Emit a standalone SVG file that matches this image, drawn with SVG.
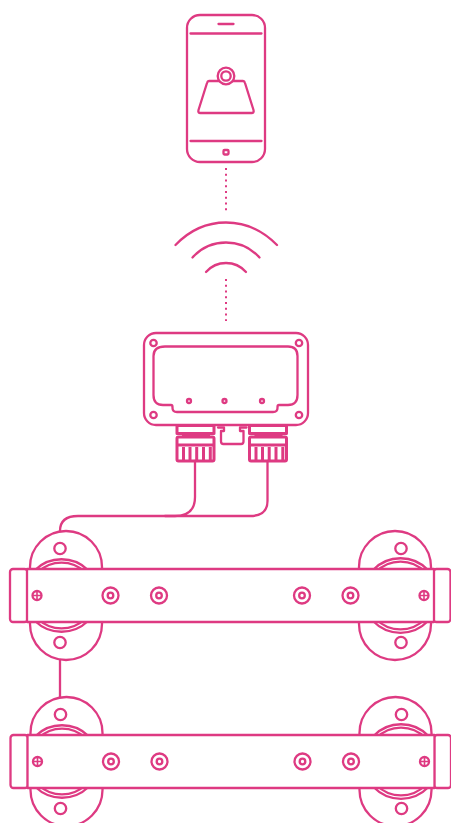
<svg xmlns="http://www.w3.org/2000/svg" xmlns:xlink="http://www.w3.org/1999/xlink" width="451" height="823" viewBox="0 0 451 823">
<style>
.s{fill:none;stroke:#de3a82;stroke-width:2.3;stroke-linecap:round;stroke-linejoin:round}
.w{fill:#fff;stroke:#de3a82;stroke-width:2.3;stroke-linejoin:round}
.d{fill:none;stroke:#de3a82;stroke-width:2;stroke-dasharray:2 3.750}
.t{fill:none;stroke:#de3a82;stroke-width:1.600}
.b{fill:none;stroke:#de3a82;stroke-width:3;stroke-linejoin:round}
</style>
<defs>
<g id="rail">
<rect class="s" x="30" y="531" width="72" height="129" rx="36"/>
<rect class="s" x="359" y="531" width="72" height="129" rx="36"/>
<circle class="s" cx="60" cy="548.500" r="5.700"/><circle class="s" cx="60" cy="642.500" r="5.700"/>
<circle class="s" cx="401" cy="548.500" r="5.700"/><circle class="s" cx="401" cy="642.500" r="5.700"/>
<path class="s" d="M35 570A38 38 0 0 1 88 570M38 572A34 34 0 0 1 85 572M35 621A38 38 0 0 0 88 621M38 619A34 34 0 0 0 85 619"/>
<path class="s" d="M373 570A38 38 0 0 1 428 570M376 572A34 34 0 0 1 425 572M373 621A38 38 0 0 0 428 621M376 619A34 34 0 0 0 425 619"/>
<rect class="s" x="10" y="569" width="17.500" height="53" rx="3"/>
<rect class="s" x="433.500" y="569" width="17" height="53" rx="3"/>
<rect class="w" x="27" y="569" width="407" height="53"/>
<circle class="s" cx="37" cy="595.500" r="4.500"/><path class="t" d="M33 595.500h8M37 591.500v8"/>
<circle class="s" cx="424" cy="595.500" r="4.500"/><path class="t" d="M420 595.500h8M424 591.500v8"/>
<circle class="s" cx="110.500" cy="595.500" r="8"/><circle class="s" cx="110.500" cy="595.500" r="2.800"/>
<circle class="s" cx="159" cy="595.500" r="8"/><circle class="s" cx="159" cy="595.500" r="2.800"/>
<circle class="s" cx="302" cy="595.500" r="8"/><circle class="s" cx="302" cy="595.500" r="2.800"/>
<circle class="s" cx="350.500" cy="595.500" r="8"/><circle class="s" cx="350.500" cy="595.500" r="2.800"/>
</g>
<g id="plug">
<rect class="b" x="177" y="425.500" width="37" height="8"/>
<path class="s" d="M183 435.500H209"/>
<rect class="b" x="177" y="437" width="37" height="24" rx="1.500"/>
<path class="b" d="M177 445H214"/>
<path class="b" d="M183.500 461V447M190 461V447M196.700 461V447M203.500 461V447M210.300 461V447"/>
</g>
</defs>
<g id="connectors">
<path class="d" d="M226 168V211"/>
<path class="d" d="M226 279V321"/>
<path class="s" d="M195 461V497Q195 516 175 516H78Q60 516 60 531"/>
<path class="s" d="M267.500 461V501Q267.500 516 250 516H165"/>
<path class="s" d="M60 660V697"/>
</g>
<g id="phone">
<rect class="s" x="187" y="15" width="78" height="147" rx="13"/>
<path class="s" d="M190.500 33.500H261.500M190.500 141H261.500M218.500 24H233.500"/>
<rect class="s" x="223.500" y="150" width="5" height="4.500" rx="1"/>
<path class="s" d="M209 81H243Q244.500 81 245 83L253.500 110Q254.300 113 251.500 113H200.500Q197.700 113 198.500 110L207 83Q207.500 81 209 81Z"/>
<circle class="w" cx="226" cy="76" r="8.300"/>
<circle class="s" cx="226" cy="76" r="4.700"/>
</g>
<g id="wifi">
<path class="s" d="M175.500 245Q197 222.500 226 222.500T277 245"/>
<path class="s" d="M192.500 257.500Q206 242.500 226 242.500T259.500 257.500"/>
<path class="s" d="M206 272Q214 263 226 263T246 272"/>
</g>
<g id="gateway">
<rect class="s" x="144" y="333" width="164" height="92" rx="12"/>
<path class="s" d="M165 346.500H288Q297.500 346.500 297.500 356V395Q297.500 405 288 405H279Q277.500 405 277.500 407V408Q277.500 412 273 412H177Q172.500 412 172.500 408V407Q172.500 405 171 405H163Q153.500 405 153.500 395V356Q153.500 346.500 165 346.500Z"/>
<circle class="s" cx="153.500" cy="343" r="3.200"/><circle class="s" cx="299" cy="343" r="3.200"/>
<circle class="s" cx="153.500" cy="415" r="3.200"/><circle class="s" cx="299" cy="415" r="3.200"/>
<circle class="s" cx="189" cy="401" r="2"/><circle class="s" cx="224.500" cy="401" r="2"/><circle class="s" cx="262" cy="401" r="2"/>
<path class="s" d="M218 427.500H224V431H221V441.500Q221 444 223.500 444H241Q243.500 444 243.500 441.500V431H240V427.500H246.500"/>
<use xlink:href="#plug" href="#plug"/>
<use xlink:href="#plug" href="#plug" x="72.500"/>
</g>
<g id="rail-top"><use xlink:href="#rail" href="#rail"/></g>
<g id="rail-bottom"><use xlink:href="#rail" href="#rail" x="0.500" y="166"/></g>
</svg>
